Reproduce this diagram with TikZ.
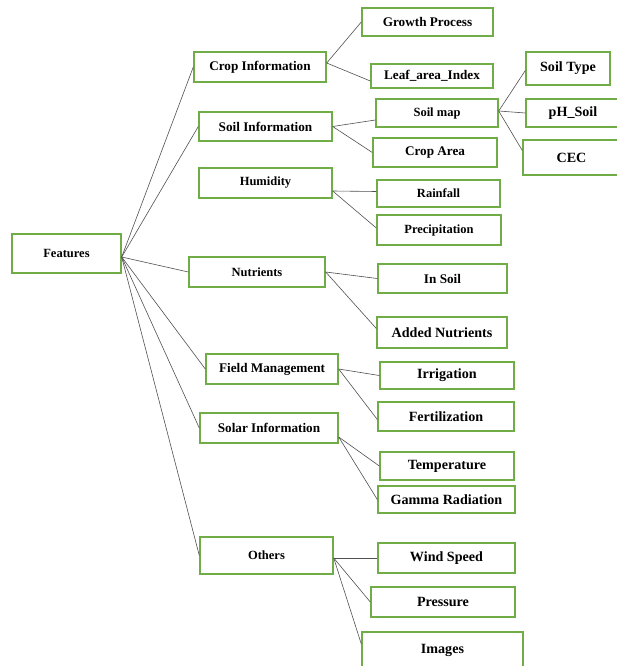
\documentclass[tikz,border=0pt]{standalone}
\usepackage{fontspec}
\setmainfont{Liberation Serif}
\definecolor{boxgreen}{RGB}{112,173,71}
\definecolor{linkgray}{RGB}{80,80,80}
\begin{document}
\begin{tikzpicture}[x=1pt,y=-1pt,
		box/.style={draw=boxgreen, line width=1.4pt, inner sep=1pt,
			font=\fontsize{12.5}{14}\selectfont\bfseries},
		mid/.style={box, font=\fontsize{13.2}{15}\selectfont\bfseries},
		big/.style={box, font=\fontsize{14.1}{16}\selectfont\bfseries},
		link/.style={draw=linkgray, line width=0.6pt}]
		\useasboundingbox (0,0) rectangle (616,666);
		\node[box, minimum width=109, minimum height=39] (features) at (66.5,253.5) {Features};
		\node[mid, minimum width=132, minimum height=30] (crop) at (260,67) {Crop Information};
		\node[mid, minimum width=133, minimum height=29] (soil) at (265.5,126.5) {Soil Information};
		\node[box, minimum width=133, minimum height=30] (humidity) at (265.5,183) {Humidity};
		\node[box, minimum width=136, minimum height=30] (nutrients) at (257,272) {Nutrients};
		\node[mid, minimum width=132, minimum height=30] (field) at (272,369) {Field Management};
		\node[mid, minimum width=138, minimum height=30] (solar) at (269,428) {Solar Information};
		\node[box, minimum width=133, minimum height=37] (others) at (266.5,555.5) {Others};
		\node[mid, minimum width=131, minimum height=28] (growth) at (427.5,22) {Growth Process};
		\node[mid, minimum width=122, minimum height=24] (leaf) at (432,76) {Leaf\_area\_Index};
		\node[box, minimum width=122, minimum height=28] (soilmap) at (437,113) {Soil map};
		\node[mid, minimum width=124, minimum height=29] (croparea) at (435,152.5) {Crop Area};
		\node[big, minimum width=84, minimum height=33] (soiltype) at (568,68.5) {Soil Type};
		\node[big, minimum width=94, minimum height=28] (ph) at (573,113) {pH\_Soil};
		\node[big, minimum width=97, minimum height=35] (cec) at (571.5,157.5) {CEC};
		\node[box, minimum width=123, minimum height=27] (rainfall) at (438.5,193.5) {Rainfall};
		\node[box, minimum width=124, minimum height=30] (precip) at (439,230) {Precipitation};
		\node[mid, minimum width=129, minimum height=29] (insoil) at (442.5,278.5) {In Soil};
		\node[big, minimum width=130, minimum height=31] (added) at (442,332.5) {Added Nutrients};
		\node[big, minimum width=134, minimum height=27] (irrigation) at (447,375.5) {Irrigation};
		\node[big, minimum width=136, minimum height=29] (fert) at (446,416.5) {Fertilization};
		\node[big, minimum width=134, minimum height=28] (temp) at (447,466) {Temperature};
		\node[big, minimum width=137, minimum height=27] (gamma) at (446.5,499.5) {Gamma Radiation};
		\node[big, minimum width=137, minimum height=30] (wind) at (446.5,558) {Wind Speed};
		\node[big, minimum width=144, minimum height=30] (pressure) at (443,602) {Pressure};
		\node[big, minimum width=161, minimum height=36] (images) at (442.5,650) {Images};
		\foreach \n in {crop,soil,nutrients,field,solar,others}
		\draw[link] ([yshift=-3.5]features.east) -- (\n.west);
		\draw[link] ([yshift=4]crop.east) -- (growth.west);
		\draw[link] ([yshift=4]crop.east) -- ([yshift=-5]leaf.west);
		\draw[link] (soil.east) -- ([yshift=-7]soilmap.west);
		\draw[link] (soil.east) -- (croparea.west);
		\draw[link] ([yshift=2]soilmap.east) -- ([yshift=-2]soiltype.west);
		\draw[link] ([yshift=2]soilmap.east) -- (ph.west);
		\draw[link] ([yshift=2]soilmap.east) -- ([yshift=7]cec.west);
		\draw[link] ([yshift=-8]humidity.east) -- ([yshift=2]rainfall.west);
		\draw[link] ([yshift=-8]humidity.east) -- ([yshift=2]precip.west);
		\draw[link] (nutrients.east) -- (insoil.west);
		\draw[link] (nutrients.east) -- ([yshift=4]added.west);
		\draw[link] (field.east) -- (irrigation.west);
		\draw[link] (field.east) -- ([yshift=-3]fert.west);
		\draw[link] ([yshift=-9]solar.east) -- (temp.west);
		\draw[link] ([yshift=-9]solar.east) -- (gamma.west);
		\draw[link] ([yshift=-2.5]others.east) -- (wind.west);
		\draw[link] ([yshift=-2.5]others.east) -- (pressure.west);
		\draw[link] ([yshift=-2.5]others.east) -- ([yshift=6]images.west);
		\end{tikzpicture}
\end{document}
